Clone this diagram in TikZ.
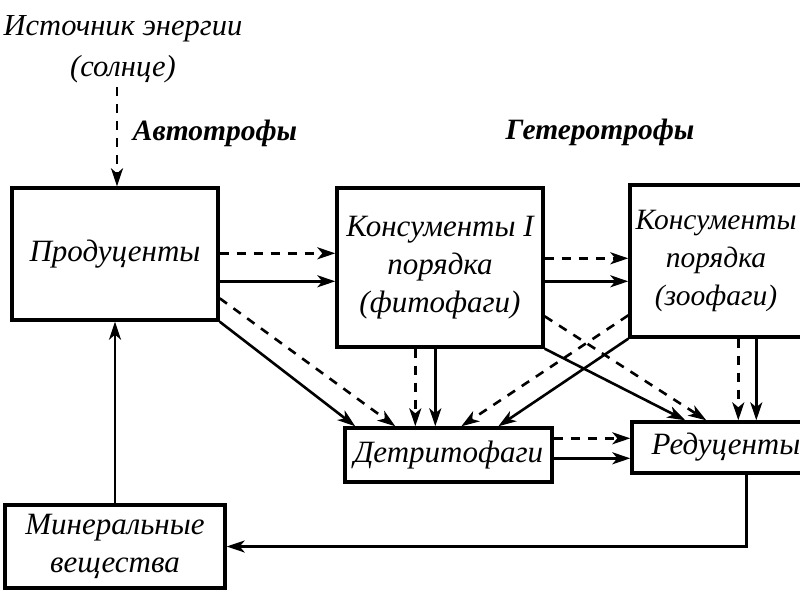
\documentclass[tikz,border=0pt]{standalone}
\usepackage{fontspec}
\setmainfont{Liberation Serif}
\usetikzlibrary{arrows.meta,calc}
\begin{document}
\begin{tikzpicture}[x=1pt,y=1pt]
\tikzset{
 box/.style={draw, line width=3.4pt, inner sep=0pt, align=center, font=\fontsize{31}{38}\selectfont\itshape},
 lab/.style={inner sep=0pt, align=center, font=\fontsize{30.5}{41}\selectfont\itshape},
 hd/.style={inner sep=0pt, font=\fontsize{29.5}{32}\selectfont\bfseries\itshape},
 sol/.style={line width=2.6pt, -{Stealth[length=18pt,width=12pt,inset=5pt]}},
 dsh/.style={sol, dash pattern=on 9pt off 8pt},
}
\useasboundingbox (0,0) rectangle (800,-600);
\fill[white] (0,0) rectangle (800,-600);
\clip (0,0) rectangle (800,-600);

\node[lab] (src) at (123,-49) {Источник энергии\\(солнце)};
\node[hd] (aut) at (215,-133) {Автотрофы};
\node[hd] (het) at (600,-132) {Гетеротрофы};

\node[box, minimum width=206pt, minimum height=132pt] (prod) at (115,-254) {Продуценты};
\node[box, minimum width=206pt, minimum height=159pt] (k1) at (440,-267.5) {Консументы I\\порядка\\(фитофаги)};
\node[box, minimum width=172pt, minimum height=152pt, font=\fontsize{29.5}{38}\selectfont\itshape] (k2) at (716,-261) {Консументы\\порядка\\(зоофаги)};
\node[box, minimum width=207pt, minimum height=54pt] (det) at (448.5,-455) {Детритофаги};
\node[box, minimum width=188pt, minimum height=51pt] (redu) at (726,-447.5) {Редуценты};
\node[box, minimum width=220pt, minimum height=83pt] (mins) at (115,-546.5) {Минеральные\\вещества};

% sun -> producers
\draw[dsh] ([xshift=-6pt,yshift=-4pt]src.south) -- ([xshift=-6pt]src.south |- prod.north);
% producers -> consumers I
\draw[dsh] ([yshift=-67pt]prod.north east) -- ([yshift=-67pt]k1.north west);
\draw[sol] ([yshift=-95pt]prod.north east) -- ([yshift=-95pt]k1.north west);
% consumers I -> consumers II
\draw[dsh] ([yshift=-72pt]k1.north east) -- ([yshift=-75pt]k2.north west);
\draw[sol] ([yshift=-95pt]k1.north east) -- ([yshift=-98pt]k2.north west);
% producers -> detritophages
\draw[sol] (prod.south east) -- ([xshift=12pt]det.north west);
\draw[dsh] ([yshift=-112pt]prod.north east) -- ([xshift=52pt]det.north west);
% consumers I -> detritophages
\draw[dsh] ([xshift=80pt]k1.south west) -- ([xshift=72pt]det.north west);
\draw[sol] ([xshift=100pt]k1.south west) -- ([xshift=92pt]det.north west);
% consumers II -> detritophages
\draw[dsh] ([yshift=-132pt]k2.north west) -- ([xshift=118pt]det.north west);
\draw[sol] (k2.south west) -- ([xshift=155pt]det.north west);
% consumers I -> reducers
\draw[sol] (k1.south east) -- ([xshift=55pt]redu.north west);
\draw[dsh] ([yshift=-130pt]k1.north east) -- ([xshift=76pt]redu.north west);
% consumers II -> reducers
\draw[dsh] ([xshift=110pt]k2.south west) -- ([xshift=108pt]redu.north west);
\draw[sol] ([xshift=128pt]k2.south west) -- ([xshift=126pt]redu.north west);
% detritophages -> reducers
\draw[dsh] ([yshift=-12pt]det.north east) -- ([yshift=-18pt]redu.north west);
\draw[sol] ([yshift=-32pt]det.north east) -- ([yshift=-38pt]redu.north west);
% reducers -> minerals
\draw[sol] ([xshift=116pt]redu.south west) |- (mins.east);
% minerals -> producers
\draw[sol] (mins.north) -- (prod.south);
\end{tikzpicture}
\end{document}
